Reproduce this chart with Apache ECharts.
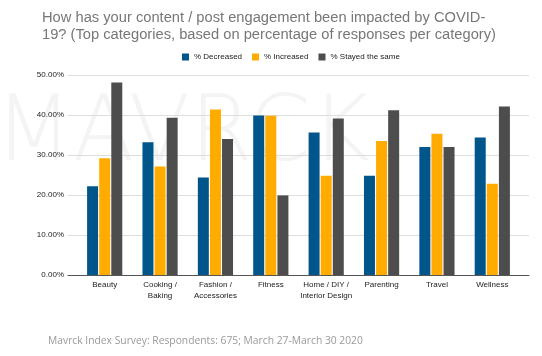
<!DOCTYPE html>
<html><head><meta charset="utf-8">
<script src="https://cdn.jsdelivr.net/npm/echarts@6/dist/echarts.min.js"></script>
<style>html,body{margin:0;padding:0;background:#fff}#c{width:542px;height:356px}</style>
</head><body><div id="c"></div>
<script>
const categories = ['Beauty','Cooking /\nBaking','Fashion /\nAccessories','Fitness','Home / DIY /\nInterior Design','Parenting','Travel','Wellness'];
const decreased = [22.2, 33.2, 24.4, 39.9, 35.6, 24.8, 32.0, 34.4];
const increased = [29.2, 27.1, 41.4, 39.8, 24.8, 33.5, 35.3, 22.8];
const stayed    = [48.1, 39.3, 34.0, 19.9, 39.1, 41.2, 32.0, 42.1];
const seriesNames = ['% Decreased','% Increased','% Stayed the same'];
const colors = ['#00558a','#ffab00','#4d4d4d'];
const chart = echarts.init(document.getElementById('c'));
const lbl = {fontFamily:'Liberation Sans', fontSize:8, color:'#222'};
chart.setOption({
  animation:false,
  title:{text:'How has your content / post engagement been impacted by COVID-\n19? (Top categories, based on percentage of responses per category)',
    left:37, top:4, textStyle:{fontFamily:'Liberation Sans', fontWeight:'normal', fontSize:14.7, color:'#777', lineHeight:17}},
  graphic:[
    {type:'text', left:-5, top:92, z:-10, style:{text:'MAVRCK', fontFamily:'DejaVu Sans', fontWeight:200, fontSize:90, fill:'#f4f4f4'}},
    {type:'text', left:48, top:336, style:{text:'Mavrck Index Survey: Respondents: 675; March 27-March 30 2020', fontFamily:'Open Sans', fontSize:10.3, fill:'#9a9a9a'}}
  ],
  legend:{left:177, top:48, itemWidth:7, itemHeight:7, itemGap:10, icon:'rect', textStyle:lbl, data:seriesNames},
  grid:[{left:68, right:13, top:75, bottom:81}, {left:77, right:22, top:75, bottom:81}],
  xAxis:[
    {type:'value', gridIndex:0, show:true, min:0, max:1, axisLabel:{show:false}, axisTick:{show:false}, splitLine:{show:false}, axisLine:{show:true, lineStyle:{color:'#555'}}},
    {type:'category', gridIndex:1, data:categories, axisLine:{show:false}, axisTick:{show:false}, axisLabel:Object.assign({interval:0, margin:4, lineHeight:11}, lbl)}
  ],
  yAxis:[
    {type:'value', gridIndex:0, min:0, max:50, interval:10, axisLine:{show:false}, axisTick:{show:false},
     axisLabel:Object.assign({formatter:v=>v.toFixed(2)+'%', margin:4}, lbl), splitLine:{lineStyle:{color:'#ddd'}}},
    {type:'value', gridIndex:1, min:0, max:50, interval:10, show:false, splitLine:{show:false}}
  ],
  series:[decreased, increased, stayed].map((d,i)=>({
    name:seriesNames[i], type:'bar', xAxisIndex:1, yAxisIndex:1, data:d, barWidth:11, barGap:'10%', itemStyle:{color:colors[i]}
  }))
});
</script></body></html>
